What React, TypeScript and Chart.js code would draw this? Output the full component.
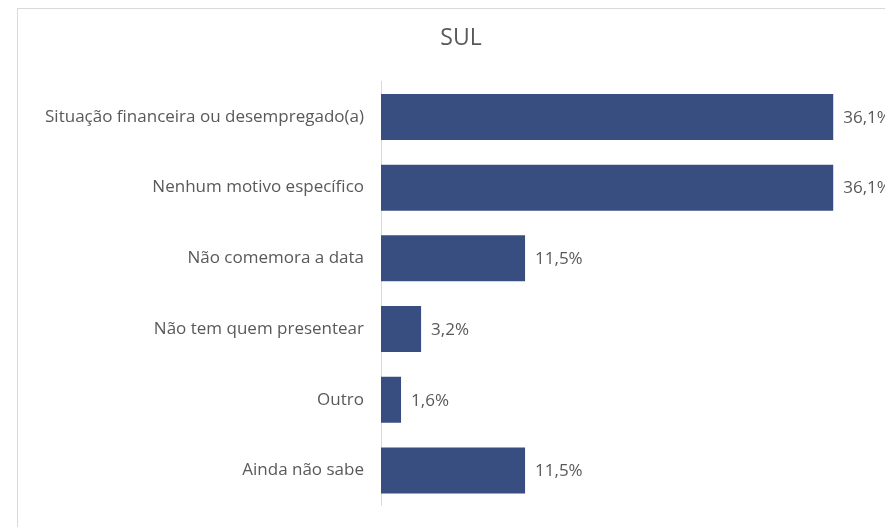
import React, { useEffect, useRef } from "react";
import { Chart, registerables } from "chart.js";

Chart.register(...registerables);

const categories = [
  "Situação financeira ou desempregado(a)",
  "Nenhum motivo específico",
  "Não comemora a data",
  "Não tem quem presentear",
  "Outro",
  "Ainda não sabe",
];
const values = [36.1, 36.1, 11.5, 3.2, 1.6, 11.5];
const chartTitle = "SUL";

const FONT = "'Open Sans', Arial, sans-serif";
const TEXT = "#595959";

const labelPlugin = {
  id: "valueLabels",
  afterDatasetsDraw(chart: any) {
    const ctx = chart.ctx;
    const meta = chart.getDatasetMeta(0);
    ctx.save();
    ctx.font = `17px ${FONT}`;
    ctx.fillStyle = TEXT;
    ctx.textAlign = "left";
    ctx.textBaseline = "middle";
    meta.data.forEach((bar: any, i: number) => {
      const txt = values[i].toFixed(1).replace(".", ",") + "%";
      ctx.fillText(txt, bar.x + 10, bar.y + 1);
    });
    ctx.restore();
  },
};

export default function App() {
  const ref = useRef<HTMLCanvasElement | null>(null);
  useEffect(() => {
    if (!ref.current) return;
    const chart = new Chart(ref.current, {
      type: "bar",
      data: {
        labels: categories,
        datasets: [
          {
            data: values,
            backgroundColor: "#384D80",
            categoryPercentage: 0.65,
            barPercentage: 1,
          },
        ],
      },
      options: {
        indexAxis: "y",
        animation: false,
        responsive: false,
        layout: { padding: 0 },
        plugins: {
          legend: { display: false },
          tooltip: { enabled: false },
          title: {
            display: true,
            text: chartTitle,
            color: TEXT,
            font: { family: FONT, size: 23, weight: "normal" },
            padding: { top: 16, bottom: 29 },
          },
        },
        scales: {
          x: {
            display: false,
            min: 0,
            max: 41.75,
          },
          y: {
            grid: { display: false, drawTicks: false },
            border: { display: true, color: "#D9D9D9", width: 1 },
            ticks: {
              color: TEXT,
              font: { family: FONT, size: 17 },
              padding: 17,
            },
            afterFit(scale: any) {
              scale.width = 363;
            },
          },
        },
      },
      plugins: [labelPlugin],
    });
    return () => chart.destroy();
  }, []);

  return (
    <div
      style={{
        position: "fixed",
        left: 0,
        top: 0,
        width: 885,
        height: 527,
        overflow: "hidden",
        background: "#fff",
      }}
    >
      <div
        style={{
          position: "absolute",
          left: 17,
          top: 8,
          width: 886,
          height: 560,
          border: "1px solid #D9D9D9",
          background: "#fff",
        }}
      >
        <canvas ref={ref} width={886} height={524} style={{ display: "block" }} />
      </div>
    </div>
  );
}
